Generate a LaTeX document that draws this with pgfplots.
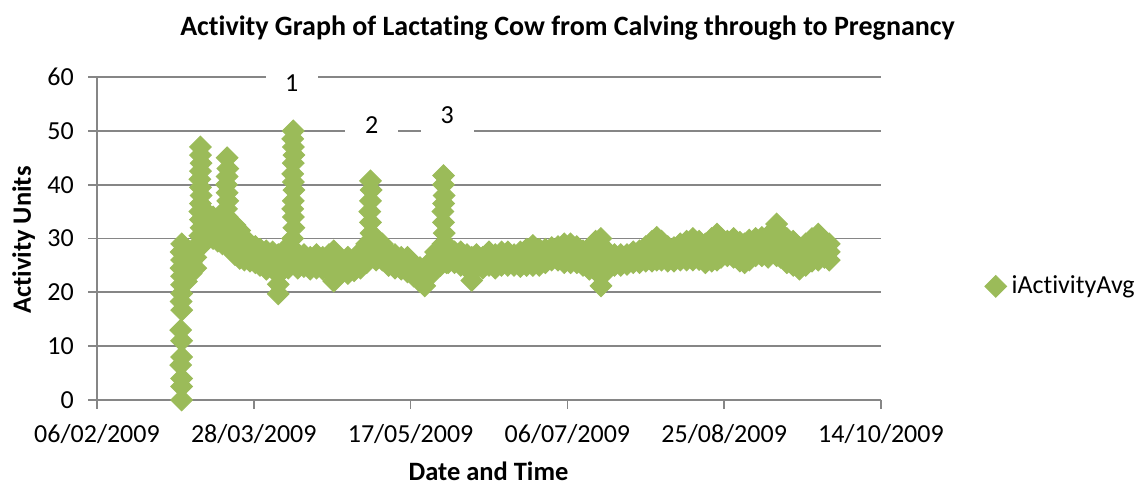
\documentclass[border=0pt]{standalone}
\usepackage{fontspec}
\setmainfont{Carlito}[Ligatures={NoCommon}]
\usepackage{pgfplots}
\pgfplotsset{compat=1.18}
\definecolor{mygreen}{HTML}{9BBB59}
\definecolor{gridgray}{HTML}{868686}
\begin{document}
\begin{tikzpicture}
\useasboundingbox (-38.8pt,-33.6pt) rectangle (417.2pt,160pt);
\begin{axis}[
  at={(0pt,0pt)}, anchor=south west,
  scale only axis, width=313.6pt, height=129.2pt,
  xmin=0, xmax=250, ymin=0, ymax=60,
  xtick={0,50,100,150,200,250},
  xticklabels={06/02/2009,28/03/2009,17/05/2009,06/07/2009,25/08/2009,14/10/2009},
  ytick={0,10,20,30,40,50,60},
  axis lines*=left,
  axis line style={gridgray, line width=0.7pt},
  ymajorgrids, major grid style={gridgray, line width=0.7pt},
  tick align=outside, major tick length=3.5pt,
  tick style={gridgray, line width=0.7pt},
  ticklabel style={font=\fontsize{10.4}{12}\selectfont, text=black},
  /pgf/number format/assume math mode=true,
  xticklabel style={anchor=base, inner sep=0pt, yshift=-13.6pt},
  yticklabel style={anchor=east, inner sep=0pt, xshift=-5.6pt},
  clip=false,
  legend style={at={(axis description cs:1.132,0.352)}, anchor=west, draw=none, fill=none,
    font=\fontsize{10.4}{12}\selectfont, inner sep=0pt},
  legend image code/.code={\draw[#1] plot coordinates {(0pt,0pt)};},
]
\addplot[only marks, color=mygreen, mark=square*, mark size=3.05pt, mark options={rotate=45}] coordinates {
(27,0)(27,2.5)(27,4)(26.7,6.5)(27,8)(27,11)(26.7,13)(27,16.7)(26.8,18.3)(27,19.8)(27,21.4)(27,23)(26.8,24.5)(27,26)(26.8,27.5)(27,29)
(28.5,22)(28.5,24)(28.5,26)(28.5,28)(30,23.5)(30,25.5)(30,27.5)(31.5,24.5)(31.5,26.5)(31.5,28.5)
(33,28.5)(32.8,30.5)(33.2,32)(33,33.5)(32.8,35)(33,36.5)(33.2,38)(33,39.5)(32.8,41)(33,42.5)(33.2,44)(33,45.5)(33,47)
(34.5,31)(34.5,33)(34.5,35)(35.5,30.5)(35.5,32.5)(35.5,34.5)(37,30)(37,32)(37,34)(38.5,29.5)(38.5,31.5)(38.5,33.5)(40,29)(40,31)(40,33)
(41.5,34)(41.3,35.5)(41.7,37)(41.5,38.5)(41.3,40)(41.5,41.5)(41.7,43)(41.5,45)
(42.5,28)(42.5,30)(42.5,32)(44,27)(44,29)(44,31)(44,32.5)(45.5,26.3)(45.5,28.3)(45.5,30.3)(45.5,31.5)(47,26)(47,28)(47,30)(48.8,25.8)(48.8,27.5)(48.8,29)(50.5,25.5)(50.5,27.3)(50.5,28.5)(52,25)(52,26.8)(52,28)(54,24.3)(54,26)(54,27.7)(56,24.5)(56,26)(56,27.5)
(57.8,19.7)(57.8,21.5)(57.8,23.3)(57.8,25)(57.8,27)(59.5,24.5)(59.5,26.2)(59.5,27.7)(61,24.5)(61,26)(61,27.5)
(62.6,28)(62.4,30)(62.8,32)(62.6,34)(62.4,35.5)(62.6,37)(62.8,39)(62.6,40.5)(62.4,42)(62.6,44)(62.8,45.5)(62.6,47)(62.4,48.5)(62.6,50)
(64,24.5)(64,25.8)(64,27)(66,24.8)(66,27)(68,24.3)(68,25.5)(68,26.5)(70,24.5)(70,27)(72,24.3)(72,25.5)(72,26.5)(74,24)(74,25.5)(74,27)
(75.5,22.1)(75.5,24)(75.5,26)(75.5,27.7)(78,23.7)(78,26)(80,23.5)(80,25)(80,26.5)(82,24)(82,26)(84,24.5)(84,26)(84,27.5)(86,25.5)(86,27.3)(86,29)
(87.2,27)(87,29)(87.4,31)(87.2,33)(87,35)(87.2,37)(87.4,39)(87.2,40.7)
(89,26)(89,27.5)(89,29)(91,26)(91,27.5)(91,29)(93,25)(93,26.3)(93,27.5)(95,24.5)(95,27)(97,24.3)(97,26.5)(99,23.8)(99,25.2)(99,26.5)(101,23)(101,25)(103,22)(103,23.5)(103,24.6)(104.5,21.2)(104.5,23.5)(106,23)(106,25.5)(108,25)(108,27.5)
(110.5,27)(110.3,29)(110.7,31)(110.5,33)(110.3,35)(110.5,36.5)(110.7,38)(110.5,40)(110.5,41.7)(109.5,25)(111.5,25.5)
(112,25.5)(112,27)(112,28.5)(114,25.5)(114,27.5)(116,25)(116,27.5)(118,24.5)(118,27)(119.5,22.2)(119.5,24.3)(119.5,26.5)(121,24.5)(121,27)(123,24.5)(123,26.5)(125,25)(125,27.5)(127,24.5)(127,27)(129,25)(129,27.5)(131,25)(131,27.5)(133,25)(133,27)(135,24.8)(135,27.5)(137,25)(137,26.5)(137,28)(139,25)(139,27)(139,28.7)(141,25)(141,26.5)(141,28)(143,25.5)(143,28)(145,26)(145,28.3)(147,26)(147,28.5)(149,25.5)(149,27.3)(149,29)(151,25.5)(151,27.3)(151,29)(153,25.5)(153,27)(153,28.5)(155,25)(155,27.7)(157,24.3)(157,26)(157,28)(159,24.5)(159,26.5)(159,29.5)
(160.7,21.2)(160.7,23)(160.7,25)(160.7,27)(160.7,28.5)(160.7,30)
(163,24.3)(163,26)(163,27.5)(165,25)(165,27)(167,25)(167,27)(169,25.2)(169,27)(171,25.5)(171,27.5)(173,25.5)(173,27.7)(175,25.8)(175,27.3)(175,28.5)(177,25.8)(177,27.7)(177,29.5)(178.5,26)(178.5,28)(178.5,30.2)(180,26)(180,27.8)(180,29.5)(182,25.8)(182,27.3)(182,28.5)(184,25.8)(184,28.3)(186,26)(186,27.5)(186,29)(188,26)(188,27.8)(188,29.5)(190,26)(190,28)(190,30)(192,26.1)(192,27.8)(192,29.5)(194,25.5)(194,27.3)(194,29)(196,25.8)(196,28)(196,30)(197.7,26)(197.7,28.4)(197.7,30.8)(199,26.5)(199,28.3)(199,30)(201,26.8)(201,29.5)(203,26.5)(203,28.3)(203,30)(205,25.8)(205,27.5)(205,29.3)(206.5,25.5)(206.5,27.3)(206.5,29)(208,26)(208,27.8)(208,29.7)(210,26.8)(210,28.5)(210,30)(212,26.8)(212,28.5)(212,30.2)(214,26.5)(214,28.5)(214,30.5)(216.7,26.8)(216.7,28.8)(216.7,30.8)(216.7,32.7)(218,26.5)(218,28.7)(218,31)(220,25.5)(220,27.7)(220,30)(222,25)(222,27.3)(222,29.5)(224,24.3)(224,26.3)(224,28.3)(226,25)(226,27)(226,29)(228,25.8)(228,28)(228,30)(230,26)(230,28.4)(230,30.8)(232,26.5)(232,28)(232,29.5)(233.5,26)(233.5,27.5)(233.5,29)
};
\addlegendentry{iActivityAvg}
\node[fill=white, inner sep=0pt, minimum width=20.8pt, minimum height=16pt, font=\fontsize{10.4}{12}\selectfont] at (axis cs:62.1,58.9) {1};
\node[fill=white, inner sep=0pt, minimum width=21.3pt, minimum height=16pt, font=\fontsize{10.4}{12}\selectfont] at (axis cs:87.6,51.1) {2};
\node[fill=white, inner sep=0pt, minimum width=21.3pt, minimum height=16pt, font=\fontsize{10.4}{12}\selectfont] at (axis cs:111.7,52.9) {3};
\end{axis}
\node[anchor=base, font=\fontsize{11.2}{13}\selectfont\bfseries] at (188.2pt,146pt) {Activity Graph of Lactating Cow from Calving through to Pregnancy};
\node[anchor=base, font=\fontsize{10.6}{12}\selectfont\bfseries] at (156.6pt,-32.2pt) {Date and Time};
\node[anchor=base, rotate=90, font=\fontsize{10.6}{12}\selectfont\bfseries] at (-26.4pt,64pt) {Activity Units};
\end{tikzpicture}
\end{document}
